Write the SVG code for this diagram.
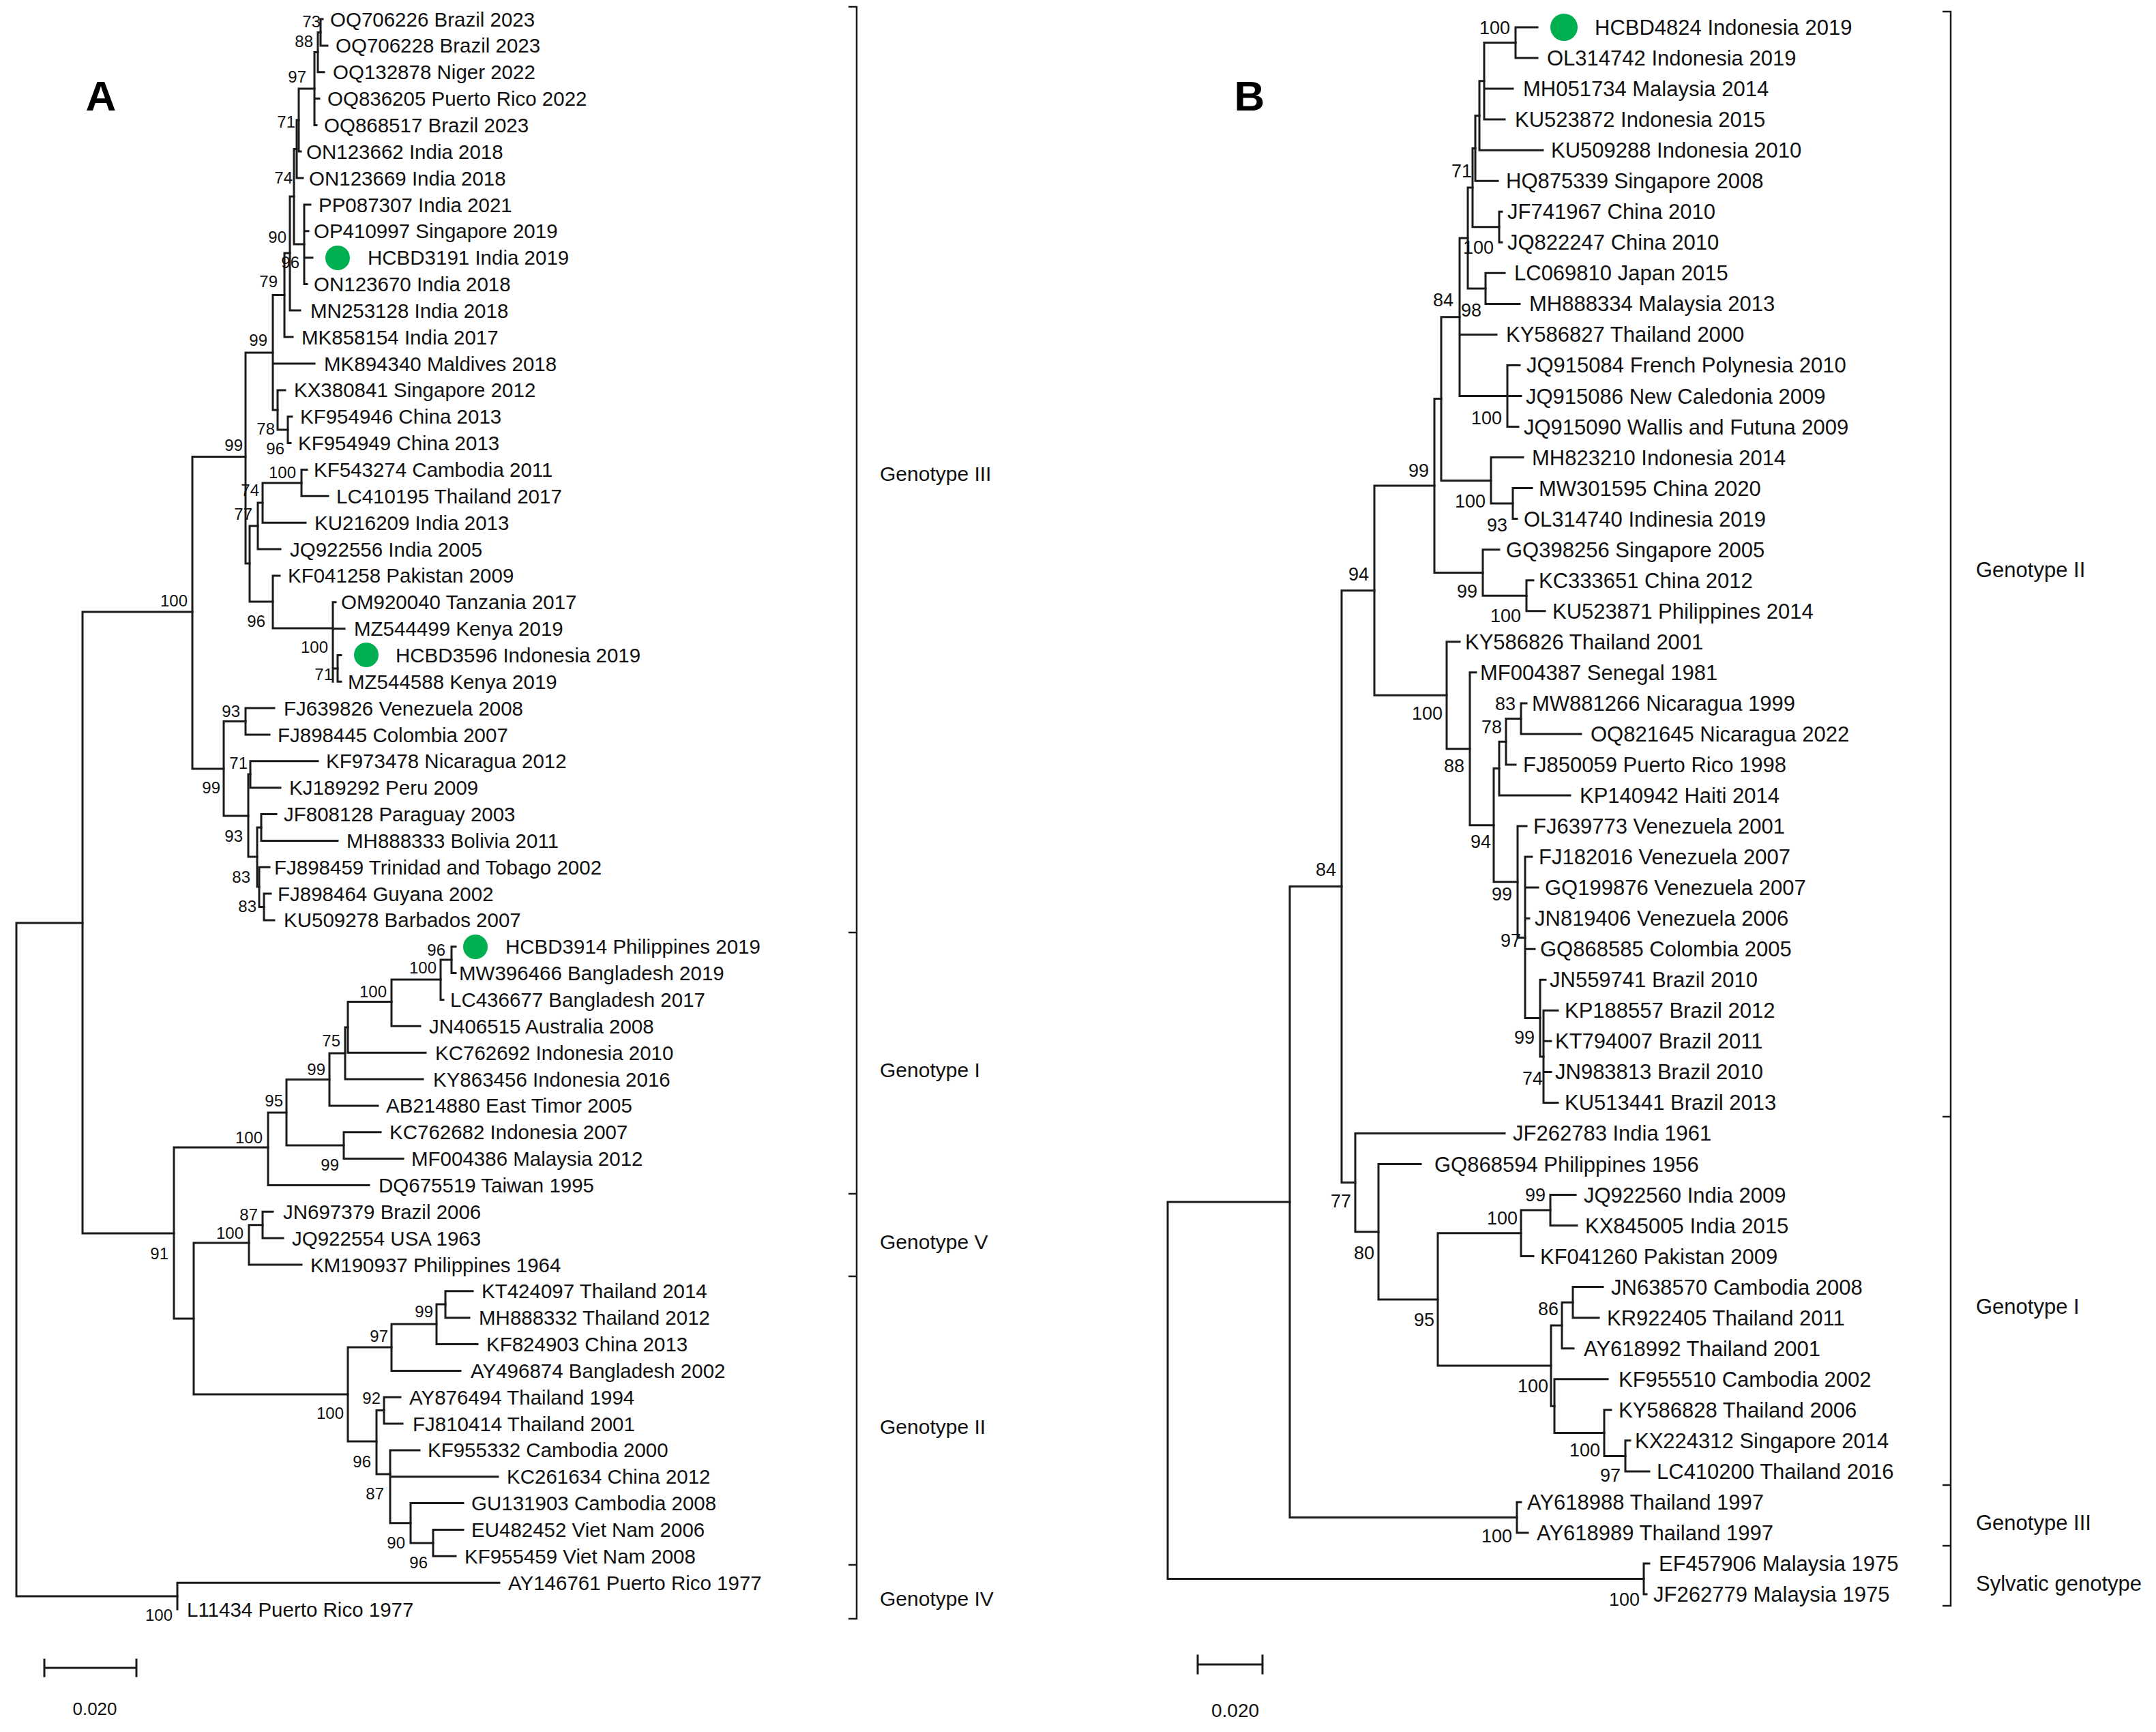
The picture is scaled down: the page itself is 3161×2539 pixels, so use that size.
<svg xmlns="http://www.w3.org/2000/svg" width="3161" height="2539" viewBox="0 0 3161 2539">
<style>
.br{fill:none;stroke:#1a1a1a;stroke-width:3;stroke-linecap:square}
.bk{fill:none;stroke:#1a1a1a;stroke-width:2.5}
.la{font-family:"Liberation Sans",Arial,sans-serif;font-size:29.5px;fill:#111}
.lb{font-family:"Liberation Sans",Arial,sans-serif;font-size:31px;fill:#111}
.ba{font-family:"Liberation Sans",Arial,sans-serif;font-size:24px;fill:#111;text-anchor:end}
.bb{font-family:"Liberation Sans",Arial,sans-serif;font-size:27px;fill:#111;text-anchor:end}
.gt{font-family:"Liberation Sans",Arial,sans-serif;font-size:30px;fill:#111}
.pl{font-family:"Liberation Sans",Arial,sans-serif;font-size:62px;font-weight:bold;fill:#000;text-anchor:middle}
.sc{font-family:"Liberation Sans",Arial,sans-serif;font-size:26px;fill:#111;text-anchor:middle}
.dot{fill:#00B050}
</style>
<rect width="3161" height="2539" fill="#fff"/>
<text class="pl" x="148" y="162">A</text>
<text class="pl" x="1832" y="162">B</text>

<g id="connectors-A" class="br">
<path d="M24,1353V2340M24,1353H121M24,2340H260"/>
<path d="M121,897V1808M121,897H282M121,1808H255"/>
<path d="M282,669.5V1127M282,669.5H360M282,1127H328"/>
<path d="M360,517V826M360,517H400M360,826H366"/>
<path d="M400,432.5V601M400,432.5H417M400,533H461M400,601H407"/>
<path d="M417,371V494M417,371H425M417,494H429"/>
<path d="M425,288V455M425,288H431M425,455H440"/>
<path d="M431,218.5V358M431,218.5H435M431,358H446"/>
<path d="M435,176V261M435,176H438M435,261H444"/>
<path d="M438,130V222M438,130H461M438,222H441"/>
<path d="M461,76.6V183.4M461,76.6H466M461,144.6H468M461,183.4H464"/>
<path d="M466,47.5V105.7M466,47.5H470M466,105.7H475"/>
<path d="M470,28V66.9M470,28H473M470,66.9H480"/>
<path d="M446,300V416.5M446,300H455M446,338.8H452M446,377.7H458M446,416.5H450"/>
<path d="M407,572V630M407,572H418M407,630H422"/>
<path d="M422,610.8V649.6M422,610.8H428M422,649.6H426"/>
<path d="M366,771V882M366,771H378M366,882H400"/>
<path d="M378,737V805M378,737H385M378,805H411"/>
<path d="M385,708V766.2M385,708H442M385,766.2H448"/>
<path d="M442,688.5V727.3M442,688.5H450M442,727.3H481"/>
<path d="M400,843.9V921M400,843.9H410M400,921H488"/>
<path d="M488,882.7V999.3M488,882.7H492M488,921.6H505M488,980H495"/>
<path d="M495,960.4V999.3M495,960.4H500M495,999.3H500"/>
<path d="M328,1057.5V1196M328,1057.5H360M328,1196H364"/>
<path d="M360,1038.1V1077M360,1038.1H402M360,1077H395"/>
<path d="M364,1135V1256M364,1135H367M364,1256H377"/>
<path d="M367,1115.8V1154.7M367,1115.8H466M367,1154.7H411"/>
<path d="M377,1213V1300M377,1213H383M377,1300H380"/>
<path d="M383,1193.5V1232.4M383,1193.5H405M383,1232.4H495"/>
<path d="M380,1271.2V1329.5M380,1271.2H395M380,1329.5H387"/>
<path d="M387,1310.1V1348.9M387,1310.1H397M387,1348.9H402"/>
<path d="M255,1682V1933M255,1682H393M255,1933H284"/>
<path d="M393,1631V1737.4M393,1631H420M393,1737.4H541"/>
<path d="M420,1582.5V1679M420,1582.5H483M420,1679H504"/>
<path d="M483,1544V1620.9M483,1544H506M483,1620.9H554"/>
<path d="M506,1506V1582M506,1506H510M506,1582H620"/>
<path d="M510,1468.5V1543.2M510,1468.5H574M510,1543.2H624"/>
<path d="M574,1436V1504.3M574,1436H646M574,1504.3H616"/>
<path d="M646,1407V1465.5M646,1407H662M646,1465.5H650"/>
<path d="M662,1387.8V1426.6M662,1387.8H668M662,1426.6H668"/>
<path d="M504,1659.7V1698.6M504,1659.7H558M504,1698.6H591"/>
<path d="M284,1822V2044M284,1822H365M284,2044H510"/>
<path d="M365,1795.7V1854M365,1795.7H385M365,1854H442"/>
<path d="M385,1776.3V1815.1M385,1776.3H400M385,1815.1H415"/>
<path d="M510,1975V2113M510,1975H574M510,2113H552"/>
<path d="M574,1941V2009.4M574,1941H640M574,2009.4H675"/>
<path d="M640,1912V1970.5M640,1912H653M640,1970.5H700"/>
<path d="M653,1892.8V1931.7M653,1892.8H693M653,1931.7H688"/>
<path d="M552,2067.6V2161M552,2067.6H563M552,2161H572"/>
<path d="M563,2048.2V2087.1M563,2048.2H587M563,2087.1H590"/>
<path d="M572,2125.9V2232.8M572,2125.9H615M572,2164.8H730M572,2232.8H602"/>
<path d="M602,2203.6V2262M602,2203.6H679M602,2262H635"/>
<path d="M635,2242.5V2281.3M635,2242.5H679M635,2281.3H668"/>
<path d="M260,2320.2V2359M260,2320.2H732"/>
</g>

<g id="bootstrap-A">
<text class="ba" x="470" y="39.5">73</text><text class="ba" x="459" y="68.5">88</text>
<text class="ba" x="449" y="120.5">97</text><text class="ba" x="433" y="186.5">71</text>
<text class="ba" x="429" y="268.5">74</text><text class="ba" x="420" y="355.5">90</text>
<text class="ba" x="439" y="392.5">96</text><text class="ba" x="407" y="420.5">79</text>
<text class="ba" x="392" y="506.5">99</text><text class="ba" x="403" y="636.5">78</text>
<text class="ba" x="417" y="665.5">96</text><text class="ba" x="356" y="660.5">99</text>
<text class="ba" x="434" y="700.5">100</text><text class="ba" x="380" y="726.5">74</text>
<text class="ba" x="370" y="761.5">77</text><text class="ba" x="275" y="888.5">100</text>
<text class="ba" x="389" y="918.5">96</text><text class="ba" x="481" y="956.5">100</text>
<text class="ba" x="488" y="996.5">71</text><text class="ba" x="352" y="1050.5">93</text>
<text class="ba" x="363" y="1126.5">71</text><text class="ba" x="323" y="1162.5">99</text>
<text class="ba" x="356" y="1233.5">93</text><text class="ba" x="367" y="1293.5">83</text>
<text class="ba" x="376" y="1336.5">83</text><text class="ba" x="653" y="1400.5">96</text>
<text class="ba" x="640" y="1426.5">100</text><text class="ba" x="567" y="1461.5">100</text>
<text class="ba" x="499" y="1533.5">75</text><text class="ba" x="477" y="1575.5">99</text>
<text class="ba" x="415" y="1621.5">95</text><text class="ba" x="385" y="1675.5">100</text>
<text class="ba" x="497" y="1715.5">99</text><text class="ba" x="378" y="1788.5">87</text>
<text class="ba" x="357" y="1815.5">100</text><text class="ba" x="247" y="1845.5">91</text>
<text class="ba" x="635" y="1930.5">99</text><text class="ba" x="569" y="1966.5">97</text>
<text class="ba" x="558" y="2057.5">92</text><text class="ba" x="504" y="2079.5">100</text>
<text class="ba" x="544" y="2150.5">96</text><text class="ba" x="563" y="2197.5">87</text>
<text class="ba" x="594" y="2269.5">90</text><text class="ba" x="627" y="2298.5">96</text>
<text class="ba" x="253" y="2375.5">100</text>
</g>

<g id="leaves-A" class="la">
<g id="A-OQ706226"><text x="484" y="38.5">OQ706226 Brazil 2023</text></g>
<g id="A-OQ706228"><text x="492" y="77.4">OQ706228 Brazil 2023</text></g>
<g id="A-OQ132878"><text x="488" y="116.2">OQ132878 Niger 2022</text></g>
<g id="A-OQ836205"><text x="480" y="155.1">OQ836205 Puerto Rico 2022</text></g>
<g id="A-OQ868517"><text x="475" y="193.9">OQ868517 Brazil 2023</text></g>
<g id="A-ON123662"><text x="449" y="232.8">ON123662 India 2018</text></g>
<g id="A-ON123669"><text x="453" y="271.6">ON123669 India 2018</text></g>
<g id="A-PP087307"><text x="467" y="310.5">PP087307 India 2021</text></g>
<g id="A-OP410997"><text x="460" y="349.3">OP410997 Singapore 2019</text></g>
<g id="A-HCBD3191"><circle class="dot" cx="495" cy="378" r="18"/><text x="539" y="388.2">HCBD3191 India 2019</text></g>
<g id="A-ON123670"><text x="460" y="427">ON123670 India 2018</text></g>
<g id="A-MN253128"><text x="455" y="465.9">MN253128 India 2018</text></g>
<g id="A-MK858154"><text x="442" y="504.7">MK858154 India 2017</text></g>
<g id="A-MK894340"><text x="475" y="543.6">MK894340 Maldives 2018</text></g>
<g id="A-KX380841"><text x="431" y="582.4">KX380841 Singapore 2012</text></g>
<g id="A-KF954946"><text x="440" y="621.3">KF954946 China 2013</text></g>
<g id="A-KF954949"><text x="437" y="660.1">KF954949 China 2013</text></g>
<g id="A-KF543274"><text x="460" y="699">KF543274 Cambodia 2011</text></g>
<g id="A-LC410195"><text x="493" y="737.8">LC410195 Thailand 2017</text></g>
<g id="A-KU216209"><text x="461" y="776.7">KU216209 India 2013</text></g>
<g id="A-JQ922556"><text x="425" y="815.5">JQ922556 India 2005</text></g>
<g id="A-KF041258"><text x="422" y="854.4">KF041258 Pakistan 2009</text></g>
<g id="A-OM920040"><text x="500" y="893.2">OM920040 Tanzania 2017</text></g>
<g id="A-MZ544499"><text x="519" y="932.1">MZ544499 Kenya 2019</text></g>
<g id="A-HCBD3596"><circle class="dot" cx="537" cy="960" r="18"/><text x="580" y="970.9">HCBD3596 Indonesia 2019</text></g>
<g id="A-MZ544588"><text x="510" y="1009.8">MZ544588 Kenya 2019</text></g>
<g id="A-FJ639826"><text x="416" y="1048.6">FJ639826 Venezuela 2008</text></g>
<g id="A-FJ898445"><text x="407" y="1087.5">FJ898445 Colombia 2007</text></g>
<g id="A-KF973478"><text x="478" y="1126.3">KF973478 Nicaragua 2012</text></g>
<g id="A-KJ189292"><text x="424" y="1165.2">KJ189292 Peru 2009</text></g>
<g id="A-JF808128"><text x="416" y="1204">JF808128 Paraguay 2003</text></g>
<g id="A-MH888333"><text x="508" y="1242.9">MH888333 Bolivia 2011</text></g>
<g id="A-FJ898459"><text x="402" y="1281.7">FJ898459 Trinidad and Tobago 2002</text></g>
<g id="A-FJ898464"><text x="407" y="1320.6">FJ898464 Guyana 2002</text></g>
<g id="A-KU509278"><text x="416" y="1359.4">KU509278 Barbados 2007</text></g>
<g id="A-HCBD3914"><circle class="dot" cx="697" cy="1388" r="18"/><text x="741" y="1398.3">HCBD3914 Philippines 2019</text></g>
<g id="A-MW396466"><text x="673" y="1437.1">MW396466 Bangladesh 2019</text></g>
<g id="A-LC436677"><text x="660" y="1476">LC436677 Bangladesh 2017</text></g>
<g id="A-JN406515"><text x="629" y="1514.8">JN406515 Australia 2008</text></g>
<g id="A-KC762692"><text x="638" y="1553.7">KC762692 Indonesia 2010</text></g>
<g id="A-KY863456"><text x="635" y="1592.5">KY863456 Indonesia 2016</text></g>
<g id="A-AB214880"><text x="566" y="1631.4">AB214880 East Timor 2005</text></g>
<g id="A-KC762682"><text x="571" y="1670.2">KC762682 Indonesia 2007</text></g>
<g id="A-MF004386"><text x="603" y="1709.1">MF004386 Malaysia 2012</text></g>
<g id="A-DQ675519"><text x="555" y="1747.9">DQ675519 Taiwan 1995</text></g>
<g id="A-JN697379"><text x="415" y="1786.8">JN697379 Brazil 2006</text></g>
<g id="A-JQ922554"><text x="428" y="1825.6">JQ922554 USA 1963</text></g>
<g id="A-KM190937"><text x="455" y="1864.5">KM190937 Philippines 1964</text></g>
<g id="A-KT424097"><text x="706" y="1903.3">KT424097 Thailand 2014</text></g>
<g id="A-MH888332"><text x="702" y="1942.2">MH888332 Thailand 2012</text></g>
<g id="A-KF824903"><text x="713" y="1981">KF824903 China 2013</text></g>
<g id="A-AY496874"><text x="690" y="2019.9">AY496874 Bangladesh 2002</text></g>
<g id="A-AY876494"><text x="600" y="2058.7">AY876494 Thailand 1994</text></g>
<g id="A-FJ810414"><text x="605" y="2097.6">FJ810414 Thailand 2001</text></g>
<g id="A-KF955332"><text x="627" y="2136.4">KF955332 Cambodia 2000</text></g>
<g id="A-KC261634"><text x="743" y="2175.3">KC261634 China 2012</text></g>
<g id="A-GU131903"><text x="691" y="2214.1">GU131903 Cambodia 2008</text></g>
<g id="A-EU482452"><text x="691" y="2253">EU482452 Viet Nam 2006</text></g>
<g id="A-KF955459"><text x="681" y="2291.8">KF955459 Viet Nam 2008</text></g>
<g id="A-AY146761"><text x="745" y="2330.7">AY146761 Puerto Rico 1977</text></g>
<g id="A-L11434"><text x="274" y="2369.5">L11434 Puerto Rico 1977</text></g>
</g>

<g id="brackets-A">
<path class="bk" d="M1244,10H1256V1367H1244M1244,1367H1256V1750H1244M1244,1750H1256V1871H1244M1244,1871H1256V2294H1244M1244,2294H1256V2373H1244"/>
<text class="gt" x="1290" y="705">Genotype III</text>
<text class="gt" x="1290" y="1579">Genotype I</text>
<text class="gt" x="1290" y="1831">Genotype V</text>
<text class="gt" x="1290" y="2102">Genotype II</text>
<text class="gt" x="1290" y="2354">Genotype IV</text>
</g>

<g id="scale-A">
<path class="br" d="M65,2445H200M65,2433V2457M200,2433V2457"/>
<text class="sc" x="139" y="2514">0.020</text>
</g>

<g id="connectors-B" class="br">
<path d="M1712,1762V2314.5M1712,1762H1891M1712,2314.5H2410"/>
<path d="M2410,2292V2337M2410,2292H2418M2410,2337H2414"/>
<path d="M1891,1299.6V2224.5M1891,1299.6H1967M1891,2224.5H2224"/>
<path d="M2224,2201.9V2247M2224,2201.9H2230M2224,2247H2240"/>
<path d="M1967,865.7V1733.6M1967,865.7H2015M1967,1733.6H1987"/>
<path d="M2015,712V1019.3M2015,712H2103M2015,1019.3H2121"/>
<path d="M2103,584.6V839.5M2103,584.6H2113M2103,839.5H2174"/>
<path d="M2113,464.8V704.4M2113,464.8H2140M2113,704.4H2186"/>
<path d="M2140,349V580.5M2140,349H2152M2140,490.4H2194M2140,580.5H2210"/>
<path d="M2152,275.1V422.9M2152,275.1H2159M2152,422.9H2178"/>
<path d="M2159,217.4V332.8M2159,217.4H2163M2159,332.8H2198"/>
<path d="M2163,169.5V265.2M2163,169.5H2169M2163,265.2H2196"/>
<path d="M2169,118.8V220.2M2169,118.8H2176M2169,220.2H2262"/>
<path d="M2176,62.5V175.1M2176,62.5H2222M2176,130.1H2218M2176,175.1H2206"/>
<path d="M2222,40V85M2222,40H2254M2222,85H2254"/>
<path d="M2198,310.2V355.3M2198,310.2H2202M2198,355.3H2202"/>
<path d="M2178,400.3V445.4M2178,400.3H2206M2178,445.4H2228"/>
<path d="M2210,535.4V625.5M2210,535.4H2228M2210,580.5H2230M2210,625.5H2226"/>
<path d="M2186,670.6V738.1M2186,670.6H2233M2186,738.1H2218"/>
<path d="M2218,715.6V760.6M2218,715.6H2246M2218,760.6H2224"/>
<path d="M2174,805.7V873.3M2174,805.7H2198M2174,873.3H2238"/>
<path d="M2238,850.7V895.8M2238,850.7H2248M2238,895.8H2265"/>
<path d="M2121,940.8V1097.8M2121,940.8H2140M2121,1097.8H2155"/>
<path d="M2155,985.8V1209.7M2155,985.8H2164M2155,1209.7H2190"/>
<path d="M2190,1126.6V1292.7M2190,1126.6H2198M2190,1292.7H2225"/>
<path d="M2198,1087.2V1166M2198,1087.2H2208M2198,1166H2302"/>
<path d="M2208,1053.4V1121M2208,1053.4H2230M2208,1121H2222"/>
<path d="M2230,1030.9V1075.9M2230,1030.9H2238M2230,1075.9H2318"/>
<path d="M2225,1211V1374.4M2225,1211H2238M2225,1374.4H2236"/>
<path d="M2236,1256.1V1492.6M2236,1256.1H2246M2236,1301.1H2255M2236,1346.2H2242M2236,1391.2H2250M2236,1492.6H2258"/>
<path d="M2258,1436.2V1548.9M2258,1436.2H2266M2258,1548.9H2263"/>
<path d="M2263,1481.3V1616.4M2263,1481.3H2284M2263,1526.3H2274M2263,1571.4H2274M2263,1616.4H2284"/>
<path d="M1987,1661.4V1805.7M1987,1661.4H2206M1987,1805.7H2021"/>
<path d="M2021,1706.5V1905M2021,1706.5H2083M2021,1905H2108"/>
<path d="M2108,1807.8V2002.1M2108,1807.8H2230M2108,2002.1H2274"/>
<path d="M2230,1774V1841.6M2230,1774H2273M2230,1841.6H2248"/>
<path d="M2273,1751.5V1796.6M2273,1751.5H2310M2273,1796.6H2312"/>
<path d="M2274,1943V2061.2M2274,1943H2290M2274,2061.2H2279"/>
<path d="M2290,1909.2V1976.7M2290,1909.2H2306M2290,1976.7H2307"/>
<path d="M2306,1886.6V1931.7M2306,1886.6H2350M2306,1931.7H2344"/>
<path d="M2279,2021.8V2100.6M2279,2021.8H2357M2279,2100.6H2352"/>
<path d="M2352,2066.8V2134.4M2352,2066.8H2362M2352,2134.4H2383"/>
<path d="M2383,2111.8V2156.9M2383,2111.8H2390M2383,2156.9H2418"/>
</g>

<g id="bootstrap-B">
<text class="bb" x="2214" y="49.5">100</text><text class="bb" x="2158" y="259.5">71</text>
<text class="bb" x="2190" y="371.5">100</text><text class="bb" x="2131" y="448.5">84</text>
<text class="bb" x="2172" y="463.5">98</text><text class="bb" x="2202" y="621.5">100</text>
<text class="bb" x="2095" y="698.5">99</text><text class="bb" x="2178" y="743.5">100</text>
<text class="bb" x="2210" y="778.5">93</text><text class="bb" x="2007" y="850.5">94</text>
<text class="bb" x="2166" y="875.5">99</text><text class="bb" x="2230" y="911.5">100</text>
<text class="bb" x="2222" y="1040.5">83</text><text class="bb" x="2115" y="1054.5">100</text>
<text class="bb" x="2202" y="1074.5">78</text><text class="bb" x="2147" y="1131.5">88</text>
<text class="bb" x="2186" y="1242.5">94</text><text class="bb" x="1959" y="1283.5">84</text>
<text class="bb" x="2217" y="1319.5">99</text><text class="bb" x="2230" y="1387.5">97</text>
<text class="bb" x="2250" y="1529.5">99</text><text class="bb" x="2262" y="1589.5">74</text>
<text class="bb" x="2266" y="1760.5">99</text><text class="bb" x="1981" y="1769.5">77</text>
<text class="bb" x="2225" y="1794.5">100</text><text class="bb" x="2015" y="1845.5">80</text>
<text class="bb" x="2285" y="1927.5">86</text><text class="bb" x="2103" y="1943.5">95</text>
<text class="bb" x="2270" y="2040.5">100</text><text class="bb" x="2346" y="2134.5">100</text>
<text class="bb" x="2376" y="2171.5">97</text><text class="bb" x="2217" y="2260.5">100</text>
<text class="bb" x="2404" y="2353.5">100</text>
</g>

<g id="leaves-B" class="lb">
<g id="B-HCBD4824"><circle class="dot" cx="2293" cy="40" r="20"/><text x="2338" y="51">HCBD4824 Indonesia 2019</text></g>
<g id="B-OL314742"><text x="2268" y="96">OL314742 Indonesia 2019</text></g>
<g id="B-MH051734"><text x="2233" y="141.1">MH051734 Malaysia 2014</text></g>
<g id="B-KU523872"><text x="2221" y="186.1">KU523872 Indonesia 2015</text></g>
<g id="B-KU509288"><text x="2274" y="231.2">KU509288 Indonesia 2010</text></g>
<g id="B-HQ875339"><text x="2208" y="276.2">HQ875339 Singapore 2008</text></g>
<g id="B-JF741967"><text x="2210" y="321.2">JF741967 China 2010</text></g>
<g id="B-JQ822247"><text x="2210" y="366.3">JQ822247 China 2010</text></g>
<g id="B-LC069810"><text x="2220" y="411.3">LC069810 Japan 2015</text></g>
<g id="B-MH888334"><text x="2242" y="456.4">MH888334 Malaysia 2013</text></g>
<g id="B-KY586827"><text x="2208" y="501.4">KY586827 Thailand 2000</text></g>
<g id="B-JQ915084"><text x="2238" y="546.4">JQ915084 French Polynesia 2010</text></g>
<g id="B-JQ915086"><text x="2237" y="591.5">JQ915086 New Caledonia 2009</text></g>
<g id="B-JQ915090"><text x="2234" y="636.5">JQ915090 Wallis and Futuna 2009</text></g>
<g id="B-MH823210"><text x="2246" y="681.6">MH823210 Indonesia 2014</text></g>
<g id="B-MW301595"><text x="2256" y="726.6">MW301595 China 2020</text></g>
<g id="B-OL314740"><text x="2234" y="771.6">OL314740 Indinesia 2019</text></g>
<g id="B-GQ398256"><text x="2208" y="816.7">GQ398256 Singapore 2005</text></g>
<g id="B-KC333651"><text x="2256" y="861.7">KC333651 China 2012</text></g>
<g id="B-KU523871"><text x="2276" y="906.8">KU523871 Philippines 2014</text></g>
<g id="B-KY586826"><text x="2148" y="951.8">KY586826 Thailand 2001</text></g>
<g id="B-MF004387"><text x="2170" y="996.8">MF004387 Senegal 1981</text></g>
<g id="B-MW881266"><text x="2246" y="1041.9">MW881266 Nicaragua 1999</text></g>
<g id="B-OQ821645"><text x="2332" y="1086.9">OQ821645 Nicaragua 2022</text></g>
<g id="B-FJ850059"><text x="2233" y="1132">FJ850059 Puerto Rico 1998</text></g>
<g id="B-KP140942"><text x="2316" y="1177">KP140942 Haiti 2014</text></g>
<g id="B-FJ639773"><text x="2248" y="1222">FJ639773 Venezuela 2001</text></g>
<g id="B-FJ182016"><text x="2256" y="1267.1">FJ182016 Venezuela 2007</text></g>
<g id="B-GQ199876"><text x="2265" y="1312.1">GQ199876 Venezuela 2007</text></g>
<g id="B-JN819406"><text x="2250" y="1357.2">JN819406 Venezuela 2006</text></g>
<g id="B-GQ868585"><text x="2258" y="1402.2">GQ868585 Colombia 2005</text></g>
<g id="B-JN559741"><text x="2272" y="1447.2">JN559741 Brazil 2010</text></g>
<g id="B-KP188557"><text x="2294" y="1492.3">KP188557 Brazil 2012</text></g>
<g id="B-KT794007"><text x="2280" y="1537.3">KT794007 Brazil 2011</text></g>
<g id="B-JN983813"><text x="2280" y="1582.4">JN983813 Brazil 2010</text></g>
<g id="B-KU513441"><text x="2294" y="1627.4">KU513441 Brazil 2013</text></g>
<g id="B-JF262783"><text x="2218" y="1672.4">JF262783 India 1961</text></g>
<g id="B-GQ868594"><text x="2103" y="1717.5">GQ868594 Philippines 1956</text></g>
<g id="B-JQ922560"><text x="2322" y="1762.5">JQ922560 India 2009</text></g>
<g id="B-KX845005"><text x="2324" y="1807.6">KX845005 India 2015</text></g>
<g id="B-KF041260"><text x="2258" y="1852.6">KF041260 Pakistan 2009</text></g>
<g id="B-JN638570"><text x="2362" y="1897.6">JN638570 Cambodia 2008</text></g>
<g id="B-KR922405"><text x="2356" y="1942.7">KR922405 Thailand 2011</text></g>
<g id="B-AY618992"><text x="2322" y="1987.7">AY618992 Thailand 2001</text></g>
<g id="B-KF955510"><text x="2373" y="2032.8">KF955510 Cambodia 2002</text></g>
<g id="B-KY586828"><text x="2373" y="2077.8">KY586828 Thailand 2006</text></g>
<g id="B-KX224312"><text x="2397" y="2122.8">KX224312 Singapore 2014</text></g>
<g id="B-LC410200"><text x="2429" y="2167.9">LC410200 Thailand 2016</text></g>
<g id="B-AY618988"><text x="2239" y="2212.9">AY618988 Thailand 1997</text></g>
<g id="B-AY618989"><text x="2253" y="2258">AY618989 Thailand 1997</text></g>
<g id="B-EF457906"><text x="2432" y="2303">EF457906 Malaysia 1975</text></g>
<g id="B-JF262779"><text x="2424" y="2348">JF262779 Malaysia 1975</text></g>
</g>

<g id="brackets-B">
<path class="bk" d="M2848,17H2860V1637H2848M2848,1637H2860V2177H2848M2848,2177H2860V2266H2848M2848,2266H2860V2354H2848"/>
<text class="gt" x="2897" y="846" style="font-size:31px">Genotype II</text>
<text class="gt" x="2897" y="1926" style="font-size:31px">Genotype I</text>
<text class="gt" x="2897" y="2243" style="font-size:31px">Genotype III</text>
<text class="gt" x="2897" y="2332" style="font-size:31px">Sylvatic genotype</text>
</g>

<g id="scale-B">
<path class="br" d="M1756,2440H1851M1756,2427V2453M1851,2427V2453"/>
<text class="sc" x="1811" y="2517" style="font-size:28px">0.020</text>
</g>
</svg>
